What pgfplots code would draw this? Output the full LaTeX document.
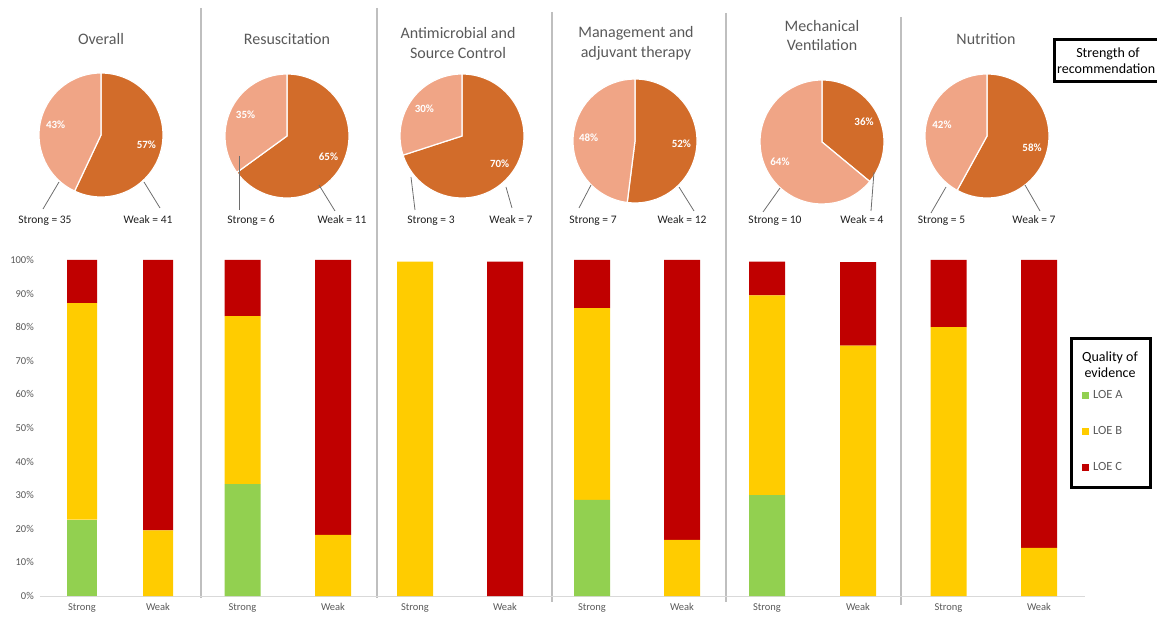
\documentclass[border=0pt]{standalone}
\usepackage{fontspec}
\setmainfont{Carlito}
\usepackage{pgfplots}
\pgfplotsset{compat=1.18}

\definecolor{weakc}{HTML}{D26C2A}
\definecolor{strongc}{HTML}{F0A586}
\definecolor{loea}{HTML}{92D050}
\definecolor{loeb}{HTML}{FFCC00}
\definecolor{loec}{HTML}{C00000}
\definecolor{txtgrey}{HTML}{595959}
\definecolor{sepgrey}{HTML}{BFBFBF}
\definecolor{basegrey}{HTML}{D9D9D9}
\definecolor{leadgrey}{HTML}{6E6E6E}

% pie: centre x, centre y (px from top-left), weak %, strong %
\newcommand\pie[4]{%
\begin{axis}[at={(#1pt,-#2pt)}, anchor=center, hide axis, scale only axis,
  width=124pt, height=124pt, xmin=-1, xmax=1, ymin=-1, ymax=1]
  \filldraw[fill=weakc, draw=white, line width=1.2pt] (axis cs:0,0) -- (axis cs:0,1)
    arc[start angle=90, delta angle={-3.6*#3}, radius=62pt] -- cycle;
  \filldraw[fill=strongc, draw=white, line width=1.2pt] (axis cs:0,0)
    -- (axis cs:{cos(90-3.6*#3)},{sin(90-3.6*#3)})
    arc[start angle={90-3.6*#3}, delta angle={-3.6*#4}, radius=62pt] -- cycle;
  \node[text=white, font=\bfseries\fontsize{11}{13}\selectfont]
    at (axis cs:{0.75*cos(90-1.8*#3)},{0.75*sin(90-1.8*#3)}) {#3\%};
  \node[text=white, font=\bfseries\fontsize{11}{13}\selectfont]
    at (axis cs:{0.75*cos(90-3.6*#3-1.8*#4)},{0.75*sin(90-3.6*#3-1.8*#4)}) {#4\%};
\end{axis}}

\begin{document}
\begin{tikzpicture}[x=1pt, y=-1pt]
\useasboundingbox (0,0) rectangle (1157,617);

% panel separators
\draw[sepgrey, line width=1.5pt] (201,8) -- (201,598);
\draw[sepgrey, line width=1.5pt] (377,8) -- (377,598);
\draw[sepgrey, line width=1.5pt] (552,12) -- (552,602);
\draw[sepgrey, line width=1.5pt] (726,13) -- (726,602);
\draw[sepgrey, line width=1.5pt] (901,17) -- (901,605);

% titles
\begin{scope}[every node/.style={text=txtgrey, font=\fontsize{16}{19}\selectfont, anchor=base}]
\node at (101,44.5) {Overall};
\node at (287,44.5) {Resuscitation};
\node at (458,38.5) {Antimicrobial and};
\node at (458,58.5) {Source Control};
\node at (636,37.5) {Management and};
\node at (636,57.5) {adjuvant therapy};
\node at (822,31.5) {Mechanical};
\node at (822,50.5) {Ventilation};
\node at (986,44.5) {Nutrition};
\end{scope}

% pies
\pie{101}{135}{57}{43}
\pie{287}{136}{65}{35}
\pie{462}{136}{70}{30}
\pie{635}{141}{52}{48}
\pie{822}{142}{36}{64}
\pie{987}{136}{58}{42}

% leader lines
\begin{scope}[leadgrey, line width=0.8pt]
\draw (59,182) -- (43,209);   \draw (144,182) -- (160,208);
\draw (239,156) -- (239,210); \draw (319,185) -- (335,211);
\draw (411,177) -- (415,210); \draw (506,187) -- (512,208);
\draw (591,185) -- (579,208); \draw (679,187) -- (694,211);
\draw (780,188) -- (763,212); \draw (874,172) -- (871,211);
\draw (946,187) -- (931,213); \draw (1025,185) -- (1040,211);
\end{scope}

\begin{scope}[every node/.style={text=black!88, font=\fontsize{11.5}{13}\selectfont, anchor=base}]
\node at (45,224) {Strong = 35};   \node at (148,224) {Weak = 41};
\node at (251,224) {Strong = 6};   \node at (342,224) {Weak = 11};
\node at (431,224) {Strong = 3};   \node at (511,224) {Weak = 7};
\node at (593,224) {Strong = 7};   \node at (682,224) {Weak = 12};
\node at (775,224) {Strong = 10};  \node at (862,224) {Weak = 4};
\node at (941.5,224) {Strong = 5}; \node at (1034,224) {Weak = 7};
\end{scope}

% strength of recommendation box
\draw[line width=3pt] (1054.5,39.5) rectangle (1170,81.5);
\node[anchor=base, font=\fontsize{14}{16}\selectfont] at (1108,57.5) {Strength of};
\node[anchor=base west, font=\fontsize{14}{16}\selectfont, inner sep=0pt] at (1057,74) {recommendation};

% quality of evidence box
\draw[line width=3pt] (1071.5,338.5) rectangle (1150.5,487.5);
\node[anchor=base, font=\fontsize{14}{16}\selectfont] at (1110,361.5) {Quality of};
\node[anchor=base, font=\fontsize{14}{16}\selectfont] at (1110,377.5) {evidence};

% bars: resuscitation ... nutrition
\begin{axis}[
  at={(40pt,-596pt)}, anchor=south west,
  scale only axis, width=1045pt, height=336pt,
  xmin=40, xmax=1085, ymin=0, ymax=100,
  ybar stacked, bar width=36,
  axis x line*=bottom, axis y line*=left,
  x axis line style={draw=basegrey, line width=1pt, -},
  y axis line style={draw=none},
  tick style={draw=none},
  xtick={82,158,242.5,333,415,505,592,682,767,858,948.5,1039},
  xticklabels={Strong,Weak,Strong,Weak,Strong,Weak,Strong,Weak,Strong,Weak,Strong,Weak},
  ytick={0,10,...,100},
  yticklabel={\pgfmathprintnumber{\tick}\%},
  /pgf/number format/assume math mode=true,
  ticklabel style={font=\fontsize{10.5}{12}\selectfont, text=txtgrey},
  xticklabel style={inner sep=0pt, yshift=-7pt},
  yticklabel style={inner sep=0pt, xshift=-6pt},
  legend cell align=left,
  legend image code/.code={\fill[#1] (0pt,-3.5pt) rectangle (7pt,3.5pt);},
  legend style={at={(0.9971,0.6146)}, anchor=north west, draw=none, fill=none,
    inner sep=0pt, row sep=24pt, column sep=3pt,
    font=\fontsize{12.5}{14}\selectfont, text=txtgrey,
    nodes={inner sep=1pt, text height=8pt, text depth=2pt}},
]
\addplot[fill=loea, draw=none] coordinates {(242.5,33.3) (333,0) (415,0) (505,0) (592,28.6) (682,0) (767,30.0) (858,0) (948.5,0) (1039,0)};
\addlegendentry{LOE A}
\addplot[fill=loeb, draw=none] coordinates {(242.5,50.0) (333,18.2) (415,99.5) (505,0) (592,57.1) (682,16.7) (767,59.5) (858,74.5) (948.5,80.0) (1039,14.3)};
\addlegendentry{LOE B}
\addplot[fill=loec, draw=none] coordinates {(242.5,16.7) (333,81.8) (415,0) (505,99.5) (592,14.3) (682,83.3) (767,10.0) (858,24.9) (948.5,20.0) (1039,85.7)};
\addlegendentry{LOE C}
\end{axis}

% bars: overall (narrower)
\begin{axis}[
  at={(40pt,-596pt)}, anchor=south west,
  scale only axis, width=1045pt, height=336pt,
  xmin=40, xmax=1085, ymin=0, ymax=100,
  ybar stacked, bar width=30, hide axis,
]
\addplot[fill=loea, draw=none] coordinates {(82,22.7) (158,0)};
\addplot[fill=loeb, draw=none] coordinates {(82,64.5) (158,19.5)};
\addplot[fill=loec, draw=none] coordinates {(82,12.8) (158,80.5)};
\end{axis}
\end{tikzpicture}
\end{document}
